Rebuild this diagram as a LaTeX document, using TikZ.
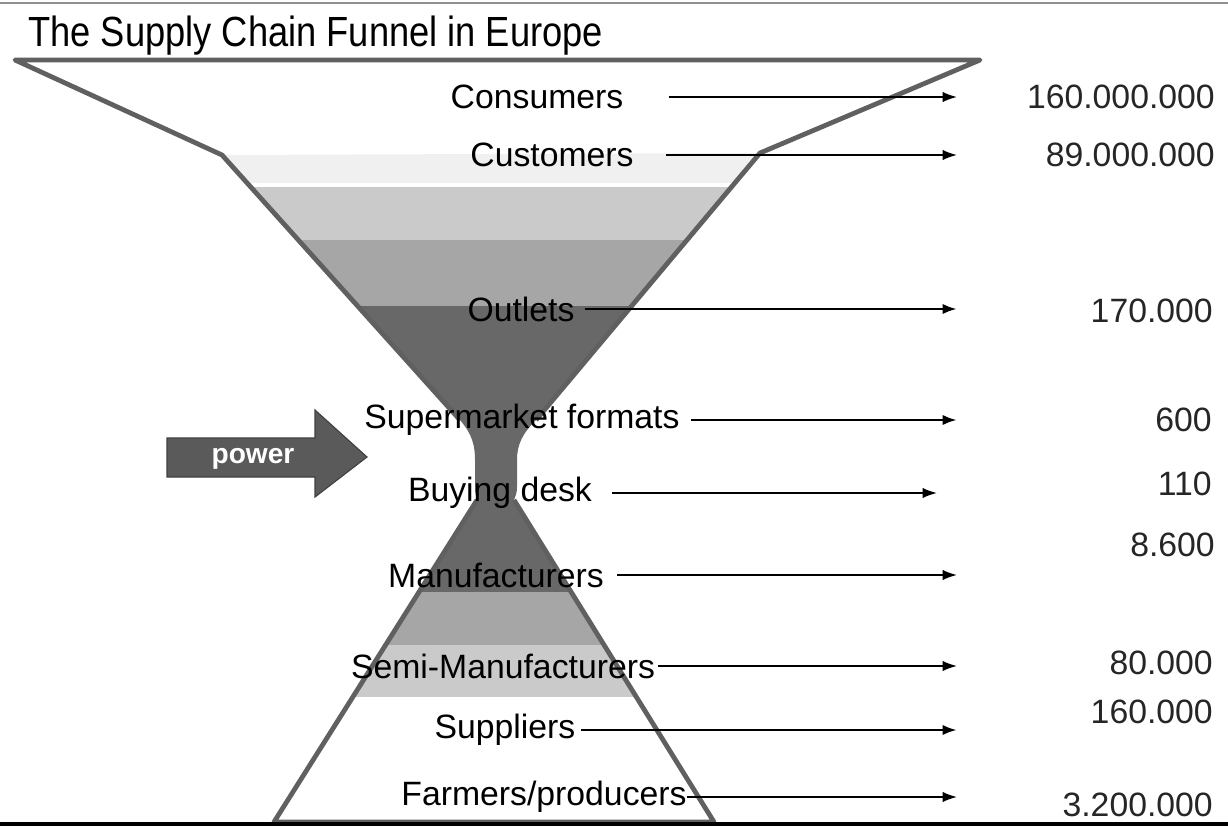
\documentclass[tikz,border=0pt]{standalone}
\usepackage{fontspec}
\setmainfont{Liberation Sans}
\newfontfamily\titlefont[FakeStretch=0.86]{Liberation Sans}
\usetikzlibrary{arrows.meta}
\definecolor{rimgray}{HTML}{606060}
\definecolor{bandpale}{HTML}{F0F0F0}
\definecolor{bandlight}{HTML}{CACACA}
\definecolor{bandmid}{HTML}{A6A6A6}
\definecolor{banddark}{HTML}{686868}
\definecolor{powerfill}{HTML}{5A5A5A}
\definecolor{numink}{HTML}{262626}
\tikzset{
  lbl/.style={font=\fontsize{24}{26}\selectfont, inner sep=0pt},
  num/.style={font=\fontsize{24}{26}\selectfont, text=numink, anchor=east, inner sep=0pt},
  flow/.style={-{Latex[length=3.6mm, width=2.6mm]}, line width=1.3pt},
  flowbold/.style={flow, line width=2pt},
  rim/.style={draw=rimgray, line width=3.4pt, line join=round}
}

\begin{document}
\begin{tikzpicture}[x=0.025cm, y=-0.025cm]
\useasboundingbox (0,0) rectangle (1228,827);
\fill[white] (0,0) rectangle (1228,827);
\draw[rimgray!70, line width=2pt] (0,3) -- (1228,3);
\node[anchor=west, font=\titlefont\fontsize{30}{32}\selectfont, inner sep=0pt] (title) at (28,36) {The Supply Chain Funnel in Europe};

% funnel bands
\begin{scope}
\clip (222,155) -- (460,420) .. controls (472,434) and (475,445) .. (475,460) -- (475,484) .. controls (475,492) .. (477,500) -- (274,822) -- (714,822) -- (514,500) .. controls (517,492) .. (517,484) -- (517,460) .. controls (517,445) and (522,434) .. (536,420) -- (760,153) -- cycle;
\fill[bandpale] (0,153) rectangle (1228,183);
\fill[bandlight] (0,187) rectangle (1228,240);
\fill[bandmid] (0,240) rectangle (1228,306);
\fill[banddark] (0,306) rectangle (1228,592);
\fill[bandmid] (0,592) rectangle (1228,645);
\fill[bandlight] (0,645) rectangle (1228,697);
\end{scope}
\draw[rim] (460,420) -- (222,155) -- (15,60) -- (980,60) -- (760,153) -- (536,420);
\draw[rim] (477,500) -- (274,822) -- (714,822) -- (514,500);
\draw[line width=2.4pt] (0,824) -- (1228,824);

% power arrow
\fill[powerfill, draw=black!75, line width=0.8pt] (167,438) -- (315,438) -- (315,410) -- (367,457) -- (315,497) -- (315,477) -- (167,477) -- cycle;
\node[font=\bfseries\fontsize{20}{22}\selectfont, text=white, inner sep=0pt] (power) at (253,459) {power};

% levels
\node[lbl] (cons) at (537,97) {Consumers};
\node[lbl] (cust) at (552,155) {Customers};
\node[lbl] (outl) at (521,309) {Outlets};
\node[lbl] (superm) at (522,420) {Supermarket formats};
\node[lbl] (buying) at (500,493) {Buying desk};
\node[lbl] (manuf) at (496,575) {Manufacturers};
\node[lbl] (semi) at (503,666) {Semi-Manufacturers};
\node[lbl] (suppl) at (505,730) {Suppliers};
\node[lbl] (farm) at (544,797) {Farmers/producers};

\coordinate (consE) at (957,97);
\coordinate (custE) at (957,155);
\coordinate (outlE) at (957,309);
\coordinate (supermE) at (957,420);
\coordinate (buyingE) at (937,493);
\coordinate (manufE) at (957,575);
\coordinate (semiE) at (957,666);
\coordinate (supplE) at (957,730);
\coordinate (farmE) at (957,797);

\draw[flow, shorten <=32pt] (cons) -- (consE); \draw[flow, shorten <=23pt] (cust) -- (custE);
\draw[flowbold, shorten <=7pt] (outl) -- (outlE); \draw[flowbold, shorten <=8pt] (superm) -- (supermE);
\draw[flow, shorten <=14pt] (buying) -- (buyingE); \draw[flow, shorten <=9pt] (manuf) -- (manufE);
\draw[flow, shorten <=2pt] (semi) -- (semiE); \draw[flowbold, shorten <=4pt] (suppl) -- (supplE);
\draw[flow] (farm) -- (farmE);

% counts
\node[num] (nCons) at (1215,97) {160.000.000};
\node[num] (nCust) at (1215,155) {89.000.000};
\node[num] (nOutl) at (1213,311) {170.000};
\node[num] (nSuperm) at (1212,420) {600};
\node[num] (nBuying) at (1212,484) {110};
\node[num] (nManuf) at (1215,545) {8.600};
\node[num] (nSemi) at (1213,663) {80.000};
\node[num] (nSuppl) at (1213,712) {160.000};
\node[num] (nFarm) at (1213,805) {3.200.000};
\end{tikzpicture}
\end{document}
